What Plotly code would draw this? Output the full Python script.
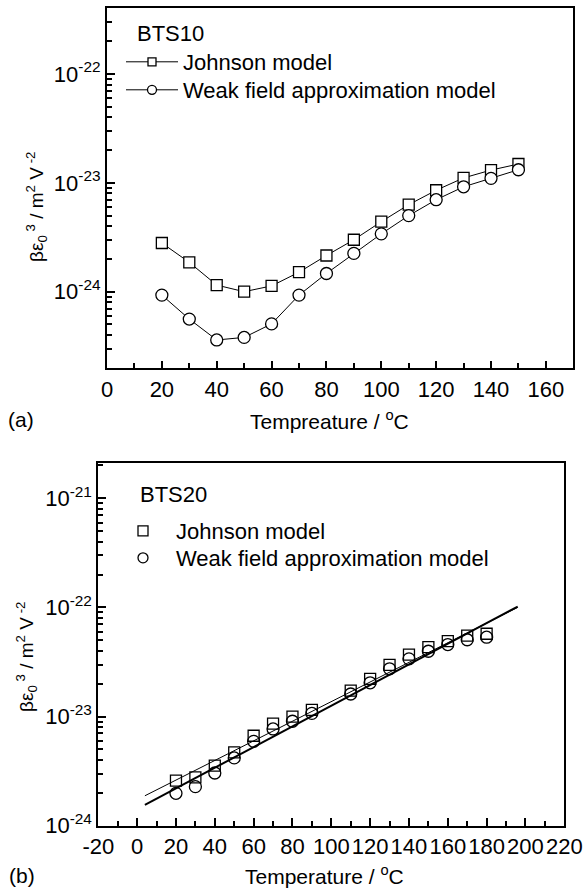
import plotly.graph_objects as go

# ---------------- data ----------------
temp_a = [20, 30, 40, 50, 60, 70, 80, 90, 100, 110, 120, 130, 140, 150]
johnson_a = [2.8e-24, 1.86e-24, 1.15e-24, 1.0e-24, 1.13e-24, 1.51e-24, 2.15e-24,
             3.0e-24, 4.4e-24, 6.3e-24, 8.55e-24, 1.11e-23, 1.31e-23, 1.49e-23]
weak_a = [9.3e-25, 5.6e-25, 3.6e-25, 3.8e-25, 5.06e-25, 9.3e-25, 1.47e-24,
          2.25e-24, 3.4e-24, 5.0e-24, 7.0e-24, 9.2e-24, 1.1e-23, 1.32e-23]

temp_b = [20, 30, 40, 50, 60, 70, 80, 90, 110, 120, 130, 140, 150, 160, 170, 180]
johnson_b = [2.59e-24, 2.77e-24, 3.55e-24, 4.69e-24, 6.67e-24, 8.63e-24, 1.0e-23,
             1.15e-23, 1.73e-23, 2.22e-23, 2.98e-23, 3.7e-23, 4.33e-23, 4.91e-23,
             5.53e-23, 5.74e-23]
weak_b = [1.98e-24, 2.28e-24, 3.04e-24, 4.18e-24, 5.93e-24, 7.7e-24, 9.06e-24,
          1.07e-23, 1.61e-23, 2.04e-23, 2.74e-23, 3.38e-23, 3.97e-23, 4.57e-23,
          5.06e-23, 5.34e-23]

fit_x = [4, 196]
johnson_fit = [1.88e-24, 1.0e-22]
weak_fit = [1.55e-24, 1.02e-22]

xticks_a = [0, 20, 40, 60, 80, 100, 120, 140, 160]
xticks_b = [-20, 0, 20, 40, 60, 80, 100, 120, 140, 160, 180, 200, 220]
xtext_b = ["-20", "0", "20", "40", "60", "80", "100", "120", "140", "160", "180", "200", "220"]
yticks_a = [1e-24, 1e-23, 1e-22]
yticks_b = [1e-24, 1e-23, 1e-22, 1e-21]
ytext_a = ["10<sup>-24</sup>", "10<sup>-23</sup>", "10<sup>-22</sup>"]
ytext_b = ["10<sup>-24</sup>", "10<sup>-23</sup>", "10<sup>-22</sup>", "10<sup>-21</sup>"]

names = ["Johnson model", "Weak field approximation model"]

FONT = "Arial, 'Liberation Sans', sans-serif"
W, H = 583, 890

fig = go.Figure()

mk = dict(color="white", line=dict(color="black", width=1.3))

# ---- panel (a) ----
fig.add_trace(go.Scatter(x=temp_a, y=johnson_a, mode="lines+markers", xaxis="x", yaxis="y",
                         line=dict(color="black", width=1),
                         marker=dict(symbol="square", size=11, **mk), showlegend=False))
fig.add_trace(go.Scatter(x=temp_a, y=weak_a, mode="lines+markers", xaxis="x", yaxis="y",
                         line=dict(color="black", width=1),
                         marker=dict(symbol="circle", size=12, **mk), showlegend=False))
# legend proxies (a)
fig.add_trace(go.Scatter(x=[None], y=[None], mode="lines+markers", xaxis="x", yaxis="y",
                         name=names[0], legend="legend",
                         line=dict(color="black", width=1),
                         marker=dict(symbol="square", size=8, **mk)))
fig.add_trace(go.Scatter(x=[None], y=[None], mode="lines+markers", xaxis="x", yaxis="y",
                         name=names[1], legend="legend2",
                         line=dict(color="black", width=1),
                         marker=dict(symbol="circle", size=9, **mk)))

# ---- panel (b) ----
fig.add_trace(go.Scatter(x=fit_x, y=johnson_fit, mode="lines", xaxis="x2", yaxis="y2",
                         line=dict(color="black", width=1), showlegend=False))
fig.add_trace(go.Scatter(x=fit_x, y=weak_fit, mode="lines", xaxis="x2", yaxis="y2",
                         line=dict(color="black", width=2), showlegend=False))
fig.add_trace(go.Scatter(x=temp_b, y=johnson_b, mode="markers", xaxis="x2", yaxis="y2",
                         marker=dict(symbol="square", size=11, color="rgba(255,255,255,0)",
                                     line=dict(color="black", width=1.3)),
                         showlegend=False))
fig.add_trace(go.Scatter(x=temp_b, y=weak_b, mode="markers", xaxis="x2", yaxis="y2",
                         marker=dict(symbol="circle", size=12, color="rgba(255,255,255,0)",
                                     line=dict(color="black", width=1.3)),
                         showlegend=False))
fig.add_trace(go.Scatter(x=[None], y=[None], mode="markers", xaxis="x2", yaxis="y2",
                         name=names[0], legend="legend3",
                         marker=dict(symbol="square", size=10, **mk)))
fig.add_trace(go.Scatter(x=[None], y=[None], mode="markers", xaxis="x2", yaxis="y2",
                         name=names[1], legend="legend4",
                         marker=dict(symbol="circle", size=10, **mk)))


def px_x(p):
    return p / W


def px_y(p):
    return 1 - p / H


def minor_log(lo, hi):
    vals = []
    for e in range(lo, hi):
        for k in range(2, 10):
            vals.append(k * 10.0 ** e)
    return vals


def leg(xp, yp, iw):
    return dict(x=px_x(xp), y=px_y(yp), xanchor="left", yanchor="middle",
                bgcolor="rgba(0,0,0,0)", borderwidth=0, itemwidth=iw,
                tracegroupgap=0, font=dict(family=FONT, size=22, color="black"))


axis_common = dict(showgrid=False, zeroline=False, showline=True, linecolor="black",
                   linewidth=2, mirror=True, ticks="inside", tickcolor="black",
                   tickwidth=2, automargin=False, tickangle=0,
                   tickfont=dict(family=FONT, size=22, color="black"))

fig.update_layout(
    width=W, height=H, margin=dict(l=0, r=0, t=0, b=0, pad=0, autoexpand=False),
    paper_bgcolor="white", plot_bgcolor="white",
    font=dict(family=FONT, color="black", size=21),
    xaxis=dict(domain=[px_x(107), px_x(573.3)], range=[0, 170], anchor="y",
               tickmode="array", tickvals=xticks_a, ticklen=7,
               minor=dict(dtick=10, tick0=0, ticks="inside", ticklen=5, tickwidth=2,
                          tickcolor="black", showgrid=False),
               **axis_common),
    yaxis=dict(domain=[px_y(368.3), px_y(8.3)], type="log", range=[-24.704, -21.396],
               anchor="x", tickmode="array", tickvals=yticks_a, ticktext=ytext_a,
               ticklen=8,
               minor=dict(tickmode="array", tickvals=minor_log(-25, -21), ticks="inside",
                          ticklen=5, tickwidth=2, tickcolor="black", showgrid=False),
               **axis_common),
    xaxis2=dict(domain=[px_x(98.3), px_x(564.3)], range=[-20, 220], anchor="y2",
                tickmode="array", tickvals=xticks_b, ticktext=xtext_b, ticklen=8,
                minor=dict(dtick=10, tick0=0, ticks="inside", ticklen=5, tickwidth=2,
                           tickcolor="black", showgrid=False),
                **axis_common),
    yaxis2=dict(domain=[px_y(825.7), px_y(463.3)], type="log", range=[-24, -20.679],
                anchor="x2", tickmode="array", tickvals=yticks_b, ticktext=ytext_b,
                ticklen=8,
                minor=dict(tickmode="array", tickvals=minor_log(-24, -20), ticks="inside",
                           ticklen=5, tickwidth=2, tickcolor="black", showgrid=False),
                **axis_common),
    legend=leg(121, 62, 52),
    legend2=leg(121, 90, 52),
    legend3=leg(110, 531, 56),
    legend4=leg(110, 558, 56),
)

ann = [
    dict(text="BTS10", x=px_x(135), y=px_y(33), xanchor="left", yanchor="middle", size=22),
    dict(text="BTS20", x=px_x(138), y=px_y(494), xanchor="left", yanchor="middle", size=22),
    dict(text="(a)", x=px_x(21), y=px_y(419), xanchor="center", yanchor="middle", size=21),
    dict(text="(b)", x=px_x(22), y=px_y(875), xanchor="center", yanchor="middle", size=21),
    dict(text="Tempreature / <sup>o</sup>C", x=px_x(329), y=px_y(420), xanchor="center",
         yanchor="middle", size=21),
    dict(text="Temperature / <sup>o</sup>C", x=px_x(324), y=px_y(875), xanchor="center",
         yanchor="middle", size=21),
]
for a in ann:
    fig.add_annotation(text=a["text"], x=a["x"], y=a["y"], xref="paper", yref="paper",
                       xanchor=a["xanchor"], yanchor=a["yanchor"], showarrow=False,
                       font=dict(family=FONT, size=a["size"], color="black"))

ytitle = "βε<sub>0</sub><sup> 3</sup> / m<sup>2</sup> V<sup> -2</sup>"
fig.add_annotation(text=ytitle, x=px_x(36), y=px_y(207), xref="paper", yref="paper",
                   xanchor="center", yanchor="middle", textangle=-90, showarrow=False,
                   font=dict(family=FONT, size=19, color="black"))
fig.add_annotation(text=ytitle, x=px_x(26), y=px_y(657), xref="paper", yref="paper",
                   xanchor="center", yanchor="middle", textangle=-90, showarrow=False,
                   font=dict(family=FONT, size=19, color="black"))

fig.write_html("out.html")
